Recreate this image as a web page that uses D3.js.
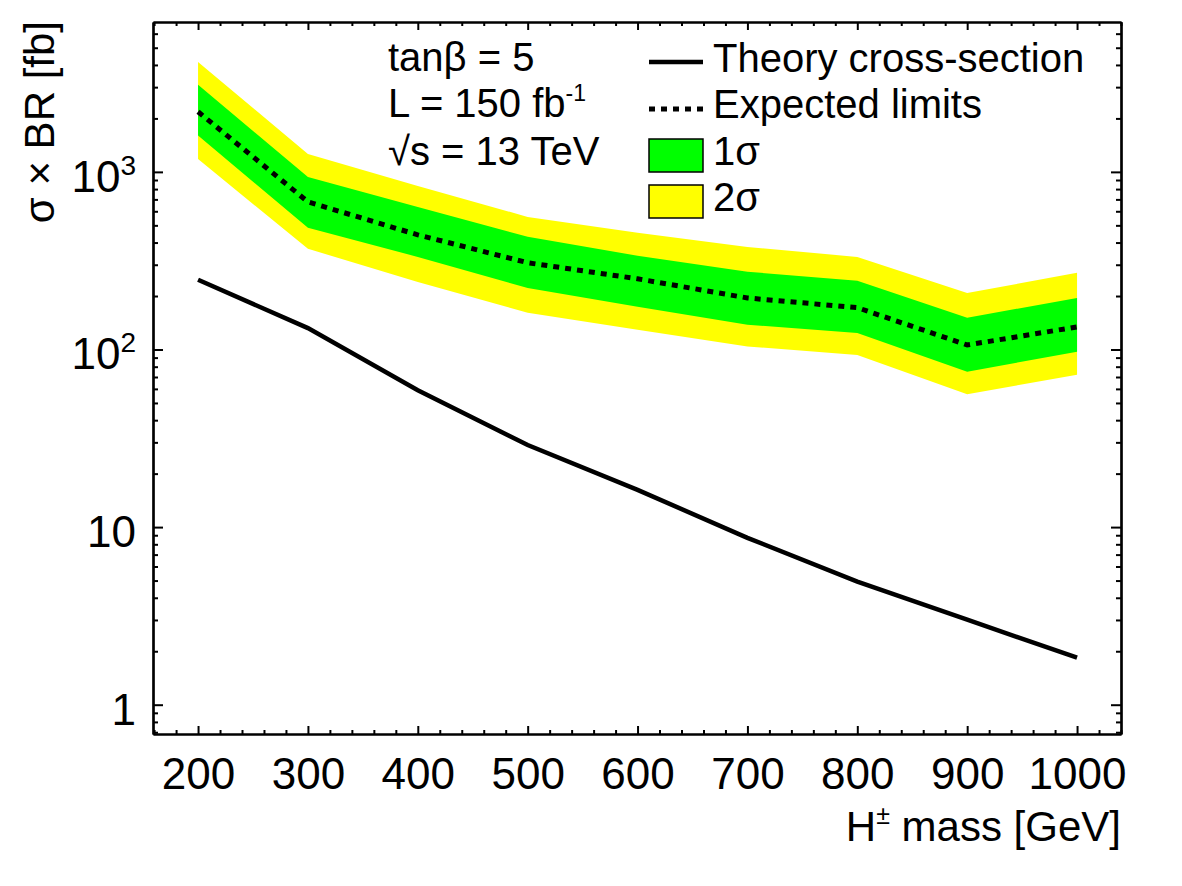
<!DOCTYPE html>
<html>
<head>
<meta charset="utf-8">
<script src="https://cdn.jsdelivr.net/npm/d3@7"></script>
<style>
  body { margin: 0; background: #fff; }
  text { font-family: "Liberation Sans", Arial, Helvetica, sans-serif; fill: #000; }
</style>
</head>
<body>
<svg id="chart" width="1182" height="886"></svg>
<script>
// H+ mass points [GeV]
const masses = [200, 300, 400, 500, 600, 700, 800, 900, 1000]
// sigma x BR [fb]
const theory    = [247, 132, 59, 29, 16.2, 8.7, 4.93, 3.01, 1.84]
const expected  = [2180, 678, 442, 308, 250, 195, 172, 106, 134]
const sigma1Lo  = [1600, 484, 332, 222, 174, 138, 124, 75, 97]
const sigma1Hi  = [3090, 937, 635, 431, 337, 274, 244, 151, 195]
const sigma2Lo  = [1180, 369, 240, 161, 129, 104, 93, 56, 72]
const sigma2Hi  = [4160, 1260, 834, 558, 454, 378, 332, 208, 270]

const xTickLabels = [200, 300, 400, 500, 600, 700, 800, 900, 1000]
const yTickLabels = [{v: 1, base: "1", exp: ""}, {v: 10, base: "10", exp: ""},
                     {v: 100, base: "10", exp: "2"}, {v: 1000, base: "10", exp: "3"}]
const infoLines = ["tanβ = 5", "L = 150 fb", "√s = 13 TeV"]
const legendNames = ["Theory cross-section", "Expected limits", "1σ", "2σ"]

const margin = {left: 153, right: 1121, top: 22, bottom: 734}
const svg = d3.select("#chart")

const x = d3.scaleLinear().domain([159, 1040]).range([margin.left, margin.right])
const y = d3.scaleLog().domain([0.684, 6980]).range([margin.bottom, margin.top])

const rows = masses.map((m, i) => ({
    m: m, th: theory[i], ex: expected[i],
    s1lo: sigma1Lo[i], s1hi: sigma1Hi[i], s2lo: sigma2Lo[i], s2hi: sigma2Hi[i]
}))

//bands
const band = (lo, hi) => d3.area().x(d => x(d.m)).y0(d => y(d[lo])).y1(d => y(d[hi]))
svg.append("path").attr("d", band("s2lo", "s2hi")(rows)).attr("fill", "#ffff00")
svg.append("path").attr("d", band("s1lo", "s1hi")(rows)).attr("fill", "#00ff00")

//lines
const line = key => d3.line().x(d => x(d.m)).y(d => y(d[key]))
svg.append("path").attr("d", line("ex")(rows))
    .attr("fill", "none").attr("stroke", "#000").attr("stroke-width", 5)
    .attr("stroke-dasharray", "6,6")
svg.append("path").attr("d", line("th")(rows))
    .attr("fill", "none").attr("stroke", "#000").attr("stroke-width", 4.5)

//axes: ticks point inward on all four sides
const xMinor = d3.range(160, 1041, 20).filter(v => v % 100 !== 0)
const yAll = y.ticks()
const isMajor = v => Math.abs(Math.log10(v) - Math.round(Math.log10(v))) < 1e-9
const yMinor = yAll.filter(v => !isMajor(v))
const yMajor = yAll.filter(isMajor)

function styleAxis(g) {
    g.select(".domain").attr("stroke", "#000").attr("stroke-width", 2.2)
    g.selectAll(".tick line").attr("stroke", "#000").attr("stroke-width", 2)
}

const gBottom = svg.append("g").attr("transform", `translate(0,${margin.bottom})`)
gBottom.call(d3.axisBottom(x).tickValues(xMinor).tickSizeInner(-4).tickSizeOuter(0).tickFormat(""))
    .call(styleAxis)
gBottom.append("g").call(d3.axisBottom(x).tickValues(xTickLabels).tickSizeInner(-8).tickSizeOuter(0)
        .tickPadding(24).tickFormat(d3.format("d")))
    .call(styleAxis)
    .call(g => g.selectAll("text").attr("font-size", 44).attr("fill", "#000")
        .attr("font-family", '"Liberation Sans", Arial, sans-serif'))

const gTop = svg.append("g").attr("transform", `translate(0,${margin.top})`)
gTop.call(d3.axisTop(x).tickValues(xMinor).tickSizeInner(-4).tickSizeOuter(0).tickFormat("")).call(styleAxis)
gTop.append("g").call(d3.axisTop(x).tickValues(xTickLabels).tickSizeInner(-8).tickSizeOuter(0).tickFormat("")).call(styleAxis)

const gLeft = svg.append("g").attr("transform", `translate(${margin.left},0)`)
gLeft.call(d3.axisLeft(y).tickValues(yMinor).tickSizeInner(-5).tickSizeOuter(0).tickFormat("")).call(styleAxis)
gLeft.append("g").call(d3.axisLeft(y).tickValues(yMajor).tickSizeInner(-10).tickSizeOuter(0).tickFormat("")).call(styleAxis)

const gRight = svg.append("g").attr("transform", `translate(${margin.right},0)`)
gRight.call(d3.axisRight(y).tickValues(yMinor).tickSizeInner(-5).tickSizeOuter(0).tickFormat("")).call(styleAxis)
gRight.append("g").call(d3.axisRight(y).tickValues(yMajor).tickSizeInner(-10).tickSizeOuter(0).tickFormat("")).call(styleAxis)

//y tick labels with superscripts
yTickLabels.forEach(t => {
    const txt = svg.append("text").attr("x", 136).attr("y", y(t.v) + 20)
        .attr("text-anchor", "end").attr("font-size", 44)
    txt.append("tspan").text(t.base)
    if (t.exp) txt.append("tspan").attr("dy", -17).attr("font-size", 28).text(t.exp)
})

//axis titles
const xt = svg.append("text").attr("x", margin.right).attr("y", 841)
    .attr("text-anchor", "end").attr("font-size", 42)
xt.append("tspan").text("H")
xt.append("tspan").attr("dy", -17).attr("font-size", 25).text("±")
xt.append("tspan").attr("dy", 17).text(" mass [GeV]")

svg.append("text").attr("transform", "translate(54,21) rotate(-90)")
    .attr("text-anchor", "end").attr("font-size", 42).text("σ × BR [fb]")

//info text
const infoY = [71, 117, 165]
infoLines.forEach((s, i) => {
    const t = svg.append("text").attr("x", 388).attr("y", infoY[i]).attr("font-size", 40)
    t.append("tspan").text(s)
    if (i === 1) t.append("tspan").attr("dy", -16).attr("font-size", 23).text("-1")
})

//legend
const legY = [72, 118, 165, 211]
svg.append("line").attr("x1", 649).attr("x2", 703).attr("y1", 62).attr("y2", 62)
    .attr("stroke", "#000").attr("stroke-width", 4.5)
svg.append("line").attr("x1", 649).attr("x2", 703).attr("y1", 109).attr("y2", 109)
    .attr("stroke", "#000").attr("stroke-width", 5).attr("stroke-dasharray", "6,6")
svg.append("rect").attr("x", 649).attr("y", 139).attr("width", 54).attr("height", 33)
    .attr("fill", "#00ff00").attr("stroke", "#000").attr("stroke-width", 1.5)
svg.append("rect").attr("x", 649).attr("y", 185).attr("width", 54).attr("height", 33)
    .attr("fill", "#ffff00").attr("stroke", "#000").attr("stroke-width", 1.5)
legendNames.forEach((s, i) => {
    svg.append("text").attr("x", 713).attr("y", legY[i]).attr("font-size", 40).text(s)
})
</script>
</body>
</html>
